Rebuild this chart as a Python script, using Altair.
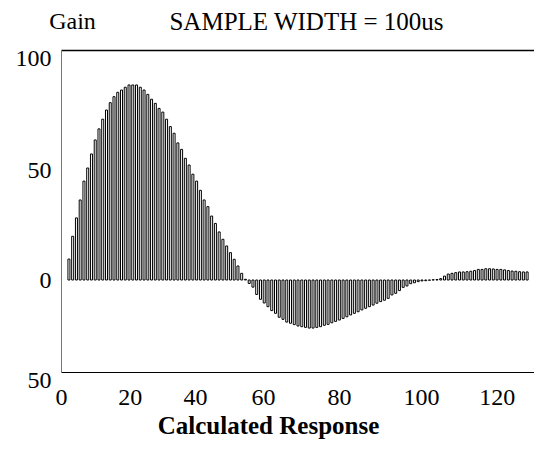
import altair as alt
import pandas as pd

# Bar heights (gain), one per sample
VALUES = [
    9.1, 19, 27, 34.8, 43, 48.7, 54.8, 60.9, 65.7, 69.9,
    73.9, 77.1, 79.7, 81.6, 82.6, 83.8, 84.8, 84.8, 84.8, 83.8,
    82.6, 80.7, 78.6, 76.8, 74.6, 73, 69.9, 66.7, 63.8, 59.6,
    56.8, 52.9, 50, 46, 43, 39, 34.8, 31.9, 27.8, 24.6,
    20.9, 17.7, 14.8, 11.9, 9, 6.1, 2.9, 0.3,
    -1.5, -3.1, -6.3, -8.4, -10, -11.6, -13.3, -14.5, -16.2, -17.1,
    -18.3, -18.8, -19.4, -20, -20.3, -20.6, -20.9, -20.9, -20.6, -20.3,
    -19.7, -19.3, -18.6, -18, -17.4, -16.7, -16, -15.2, -14.5, -13.8,
    -13, -12.3, -11.6, -10.9, -10.1, -9.4, -8.8, -8, -6.5, -5.8,
    -4.6, -3.2, -2.6, -1.6, -1.2, -0.7, -0.4, -0.3, -0.1, 0.1,
    0.2, 0.6, 1.7, 2.6, 2.9, 3.2, 3.5, 3.5, 3.6, 3.8,
    4.1, 4.6, 4.6, 4.9, 4.9, 4.8, 4.6, 4.6, 4.4, 4.1,
    3.9, 3.8, 3.6, 3.5, 3.5,
]

# Where the tick labels sit (in axis units) in the reference
X_TICK_AT = [0, 18.9, 36.8, 55.4, 76.3, 98.8, 119.6]
Y_TICK_AT = [96.5, 47.4, 0, -40]

FONT = "Liberation Serif"

df = pd.DataFrame({"n": list(range(len(VALUES))), "gain": VALUES})
ticks = pd.DataFrame({"t": X_TICK_AT})

bars = alt.Chart(df).mark_bar(
    width=2, fill="white", stroke="black", strokeWidth=1
).encode(
    x=alt.X(
        "n:Q",
        scale=alt.Scale(domain=[-0.78, 122.5], nice=False, zero=False),
        axis=alt.Axis(orient="top", labels=False, ticks=False, grid=False,
                      domain=True, domainColor="black", domainWidth=1.5,
                      title="SAMPLE WIDTH = 100us", titleX=245, titleY=-29,
                      titleAlign="center", titleBaseline="middle",
                      titleFont=FONT, titleFontSize=25, titleFontWeight="normal"),
    ),
    y=alt.Y(
        "gain:Q",
        scale=alt.Scale(domain=[-40, 100], nice=False, zero=False),
        axis=alt.Axis(
            values=Y_TICK_AT,
            labelExpr="format(abs(round(datum.value/50)*50),'d')",
            ticks=False, grid=False, domain=True, domainColor="#777777",
            labelPadding=10,
            labelOffset={"condition": {"test": "datum.value < -30", "value": 8}, "value": 0},
            title="Gain", titleAngle=0, titleX=11, titleY=-29,
            titleAlign="center", titleBaseline="middle",
            titleFont=FONT, titleFontSize=24, titleFontWeight="normal",
        ),
    ),
    y2=alt.datum(0),
)

axis_layer = alt.Chart(ticks).mark_point(opacity=0).encode(
    x=alt.X(
        "t:Q",
        scale=alt.Scale(domain=[0, 129.8], nice=False, zero=False),
        axis=alt.Axis(
            orient="bottom", values=X_TICK_AT,
            labelExpr="format(abs(round(datum.value/20)*20),'d')",
            labelFlush=False,
            ticks=False, grid=False, domain=True, domainColor="black",
            labelPadding=13,
            title="Calculated Response", titleX=207, titleY=53,
            titleAlign="center", titleBaseline="middle",
            titleFont=FONT, titleFontSize=25, titleFontWeight="bold",
        ),
    ),
)

chart = alt.layer(bars, axis_layer).resolve_scale(x="independent").resolve_axis(x="independent").properties(
    width=473,
    height=322,
    autosize="none",
    padding={"left": 53, "top": 42, "right": 0, "bottom": 80},
).configure_view(stroke=None).configure_axis(
    labelFont=FONT, labelFontSize=24, labelColor="black",
)

chart.save("out.html", embed_options={"renderer": "svg", "actions": False})
